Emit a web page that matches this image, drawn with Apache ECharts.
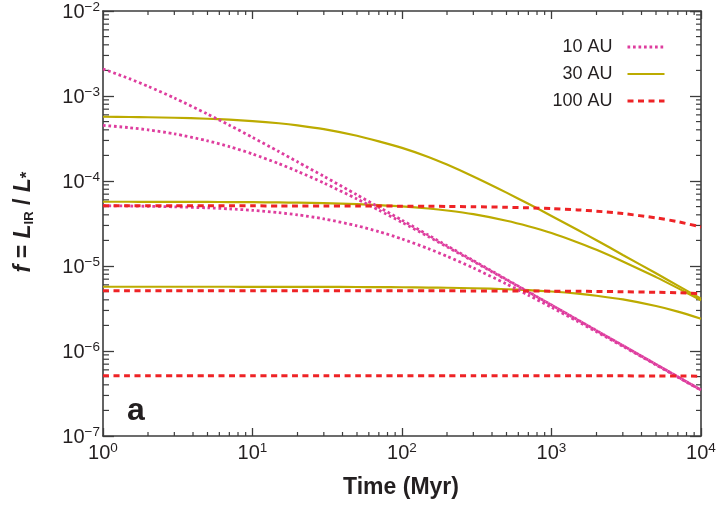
<!DOCTYPE html>
<html>
<head>
<meta charset="utf-8">
<script src="https://cdn.jsdelivr.net/npm/echarts@6/dist/echarts.min.js"></script>
<style>
html,body{margin:0;padding:0;background:#fff;}
#chart{width:720px;height:506px;}
</style>
</head>
<body>
<div id="chart"></div>
<script>
// Time samples (Myr)
const times = [1, 1.5, 2, 3, 5, 7, 10, 15, 20, 30, 50, 70, 100, 150, 200, 300, 500, 700, 1000, 1500, 2000, 3000, 5000, 7000, 10000];

// 10 AU (dotted)
const au10a = [2.08e-3, 1.60e-3, 1.30e-3, 9.48e-4, 6.14e-4, 4.54e-4, 3.26e-4, 2.22e-4, 1.68e-4, 1.135e-4, 6.87e-5, 4.92e-5, 3.46e-5, 2.31e-5, 1.73e-5, 1.16e-5, 6.95e-6, 4.97e-6, 3.48e-6, 2.32e-6, 1.74e-6, 1.16e-6, 6.96e-7, 4.97e-7, 3.48e-7];
const au10b = [4.52e-4, 4.24e-4, 4.00e-4, 3.59e-4, 2.97e-4, 2.54e-4, 2.08e-4, 1.60e-4, 1.30e-4, 9.48e-5, 6.14e-5, 4.54e-5, 3.26e-5, 2.22e-5, 1.68e-5, 1.135e-5, 6.87e-6, 4.92e-6, 3.46e-6, 2.31e-6, 1.73e-6, 1.16e-6, 6.95e-7, 4.97e-7, 3.48e-7];
const au10c = [5.12e-5, 5.08e-5, 5.04e-5, 4.97e-5, 4.83e-5, 4.70e-5, 4.52e-5, 4.24e-5, 4.00e-5, 3.59e-5, 2.97e-5, 2.54e-5, 2.08e-5, 1.60e-5, 1.30e-5, 9.48e-6, 6.14e-6, 4.54e-6, 3.26e-6, 2.22e-6, 1.68e-6, 1.135e-6, 6.87e-7, 4.92e-7, 3.46e-7];

// 30 AU (solid)
const au30a = [5.70e-4, 5.66e-4, 5.62e-4, 5.55e-4, 5.40e-4, 5.27e-4, 5.07e-4, 4.78e-4, 4.52e-4, 4.08e-4, 3.41e-4, 2.93e-4, 2.45e-4, 1.92e-4, 1.56e-4, 1.13e-4, 7.3e-5, 5.4e-5, 3.88e-5, 2.65e-5, 2.01e-5, 1.35e-5, 8.2e-6, 5.88e-6, 4.13e-6];
const au30b = [5.70e-5, 5.70e-5, 5.69e-5, 5.68e-5, 5.67e-5, 5.65e-5, 5.63e-5, 5.59e-5, 5.56e-5, 5.48e-5, 5.35e-5, 5.21e-5, 5.03e-5, 4.75e-5, 4.50e-5, 4.07e-5, 3.41e-5, 2.94e-5, 2.44e-5, 1.89e-5, 1.55e-5, 1.13e-5, 7.40e-6, 5.49e-6, 3.96e-6];
const au30c = [5.70e-6, 5.70e-6, 5.70e-6, 5.70e-6, 5.70e-6, 5.70e-6, 5.69e-6, 5.69e-6, 5.68e-6, 5.68e-6, 5.66e-6, 5.64e-6, 5.62e-6, 5.58e-6, 5.55e-6, 5.47e-6, 5.33e-6, 5.20e-6, 5.01e-6, 4.73e-6, 4.47e-6, 4.04e-6, 3.38e-6, 2.91e-6, 2.40e-6];

// 100 AU (dashed)
const au100a = [5.10e-5, 5.10e-5, 5.10e-5, 5.10e-5, 5.10e-5, 5.10e-5, 5.10e-5, 5.09e-5, 5.09e-5, 5.09e-5, 5.08e-5, 5.07e-5, 5.06e-5, 5.04e-5, 5.02e-5, 4.98e-5, 4.91e-5, 4.84e-5, 4.74e-5, 4.57e-5, 4.42e-5, 4.14e-5, 3.68e-5, 3.32e-5, 2.88e-5];
const au100b = [5.10e-6, 5.10e-6, 5.10e-6, 5.10e-6, 5.10e-6, 5.10e-6, 5.10e-6, 5.10e-6, 5.10e-6, 5.10e-6, 5.10e-6, 5.10e-6, 5.10e-6, 5.10e-6, 5.10e-6, 5.09e-6, 5.08e-6, 5.07e-6, 5.06e-6, 5.04e-6, 5.02e-6, 4.98e-6, 4.91e-6, 4.84e-6, 4.74e-6];
const au100c = [5.10e-7, 5.10e-7, 5.10e-7, 5.10e-7, 5.10e-7, 5.10e-7, 5.10e-7, 5.10e-7, 5.10e-7, 5.10e-7, 5.10e-7, 5.10e-7, 5.10e-7, 5.10e-7, 5.10e-7, 5.10e-7, 5.10e-7, 5.10e-7, 5.10e-7, 5.10e-7, 5.10e-7, 5.10e-7, 5.08e-7, 5.07e-7, 5.06e-7];

const legendNames = ['10 AU', '30 AU', '100 AU'];

// Axis ranges and tick values
const xMin = 1, xMax = 1e4, yMin = 1e-7, yMax = 1e-2;
const xMinorTicks = [];
for (let k = 0; k < 4; k++) for (let m = 2; m <= 9; m++) xMinorTicks.push(m * Math.pow(10, k));
const yMinorTicks = [];
for (let k = -7; k < -2; k++) for (let m = 2; m <= 9; m++) yMinorTicks.push(m * Math.pow(10, k));

const FONT = 'Liberation Sans, Arial, Helvetica, sans-serif';
const TXT = '#231f20';
const AX = '#3c3c3c';
const C10 = '#de3d9e', C30 = '#bcab00', C100 = '#ee2326';
const STYLE10 = { width: 2.8, type: [2.7, 2.8] };
const STYLE30 = { width: 2.2, type: 'solid' };
const STYLE100 = { width: 3, type: [6, 4.5] };

function pairs(vals) { return times.map((t, i) => [t, vals[i]]); }

function expLabel(v) {
  const e = Math.round(Math.log10(v));
  const s = e < 0 ? '\u2212' + Math.abs(e) : String(e);
  return '{m|10}{s|' + s + '}';
}
const labelRich = {
  m: { fontFamily: FONT, fontSize: 20, lineHeight: 22, color: TXT, verticalAlign: 'bottom' },
  s: { fontFamily: FONT, fontSize: 13.5, lineHeight: 13, color: TXT, verticalAlign: 'top' }
};

function lineSeries(name, vals, color, st) {
  return {
    type: 'line', name: name, data: pairs(vals), showSymbol: false, symbol: 'none',
    smooth: 0.25, animation: false, silent: true,
    lineStyle: { color: color, width: st.width, type: st.type, cap: 'butt' },
    itemStyle: { color: color }
  };
}

const axisCommonX = {
  type: 'log', logBase: 10, min: xMin, max: xMax,
  axisLine: { show: true, onZero: false, lineStyle: { color: AX, width: 1.6 } },
  axisTick: { show: true, inside: true, length: 8, lineStyle: { color: AX, width: 1.3 } },
  splitLine: { show: false }, minorTick: { show: false }
};
const axisCommonY = {
  type: 'log', logBase: 10, min: yMin, max: yMax,
  axisLine: { show: true, onZero: false, lineStyle: { color: AX, width: 1.6 } },
  axisTick: { show: true, inside: true, length: 11, lineStyle: { color: AX, width: 1.3 } },
  splitLine: { show: false }, minorTick: { show: false }
};

const noSymbol = { color: 'rgba(0,0,0,0)', borderColor: 'rgba(0,0,0,0)', borderWidth: 0, opacity: 0 };

const chart = echarts.init(document.getElementById('chart'), null, { renderer: 'canvas' });

const option = {
  backgroundColor: '#ffffff',
  animation: false,
  grid: { left: 103, right: 19, top: 11, bottom: 70, containLabel: false, outerBoundsMode: 'none' },
  legend: {
    data: [
      { name: legendNames[0], itemStyle: noSymbol, lineStyle: { color: C10, width: STYLE10.width, type: STYLE10.type } },
      { name: legendNames[1], itemStyle: noSymbol, lineStyle: { color: C30, width: STYLE30.width, type: STYLE30.type } },
      { name: legendNames[2], itemStyle: noSymbol, lineStyle: { color: C100, width: STYLE100.width, type: STYLE100.type } }
    ],
    orient: 'vertical', align: 'right',
    right: 49, top: 33,
    itemWidth: 37, itemHeight: 14, itemGap: 9,
    selectedMode: false,
    itemStyle: noSymbol,
    textStyle: { fontFamily: FONT, fontSize: 18, color: TXT, padding: [0, 10, 0, 0] }
  },
  xAxis: [
    Object.assign({}, axisCommonX, {
      position: 'bottom',
      axisLabel: { show: true, margin: 5, formatter: expLabel, rich: labelRich, showMinLabel: true, showMaxLabel: true }
    }),
    Object.assign({}, axisCommonX, { position: 'top', axisLabel: { show: false } })
  ],
  yAxis: [
    Object.assign({}, axisCommonY, {
      position: 'left',
      axisLabel: { show: true, margin: 3, formatter: expLabel, rich: labelRich, showMinLabel: true, showMaxLabel: true }
    }),
    Object.assign({}, axisCommonY, { position: 'right', axisLabel: { show: false } })
  ],
  graphic: [
    {
      type: 'text', x: 401, y: 488,
      style: { text: 'Time (Myr)', font: 'bold 23px ' + FONT, fill: TXT, align: 'center', verticalAlign: 'middle' }
    },
    {
      type: 'text', x: 23, y: 222, rotation: Math.PI / 2,
      style: {
        text: '{i|f}{b| = }{i|L}{s|IR}{b| / }{i|L}{a|*}',
        align: 'center', verticalAlign: 'middle',
        rich: {
          i: { font: 'italic bold 23px ' + FONT, fill: TXT, lineHeight: 25, verticalAlign: 'bottom' },
          b: { font: 'bold 23px ' + FONT, fill: TXT, lineHeight: 25, verticalAlign: 'bottom' },
          s: { font: 'bold 13px ' + FONT, fill: TXT, lineHeight: 13, verticalAlign: 'bottom' },
          a: { font: 'bold 17px ' + FONT, fill: TXT, lineHeight: 25, verticalAlign: 'bottom' }
        }
      }
    },
    {
      type: 'text', x: 127, y: 411,
      style: { text: 'a', font: 'bold 32px ' + FONT, fill: TXT, align: 'left', verticalAlign: 'middle' }
    }
  ],
  series: [
    lineSeries('30 AU', au30a, C30, STYLE30),
    lineSeries('30 AU', au30b, C30, STYLE30),
    lineSeries('30 AU', au30c, C30, STYLE30),
    lineSeries('10 AU', au10a, C10, STYLE10),
    lineSeries('10 AU', au10b, C10, STYLE10),
    lineSeries('10 AU', au10c, C10, STYLE10),
    lineSeries('100 AU', au100a, C100, STYLE100),
    lineSeries('100 AU', au100b, C100, STYLE100),
    lineSeries('100 AU', au100c, C100, STYLE100),
    {
      type: 'custom', name: 'xminor', silent: true, animation: false,
      data: xMinorTicks.map(v => [v, yMin]),
      renderItem: function (params, api) {
        const p = api.coord([api.value(0), yMin]);
        const cs = params.coordSys;
        const st = { stroke: AX, lineWidth: 1.2 };
        return { type: 'group', children: [
          { type: 'line', shape: { x1: p[0], y1: cs.y + cs.height, x2: p[0], y2: cs.y + cs.height - 4 }, style: st },
          { type: 'line', shape: { x1: p[0], y1: cs.y, x2: p[0], y2: cs.y + 4 }, style: st }
        ] };
      }
    },
    {
      type: 'custom', name: 'yminor', silent: true, animation: false,
      data: yMinorTicks.map(v => [xMin, v]),
      renderItem: function (params, api) {
        const p = api.coord([xMin, api.value(1)]);
        const cs = params.coordSys;
        const st = { stroke: AX, lineWidth: 1.2 };
        return { type: 'group', children: [
          { type: 'line', shape: { x1: cs.x, y1: p[1], x2: cs.x + 6, y2: p[1] }, style: st },
          { type: 'line', shape: { x1: cs.x + cs.width, y1: p[1], x2: cs.x + cs.width - 5, y2: p[1] }, style: st }
        ] };
      }
    }
  ]
};
chart.setOption(option);
</script>
</body>
</html>
